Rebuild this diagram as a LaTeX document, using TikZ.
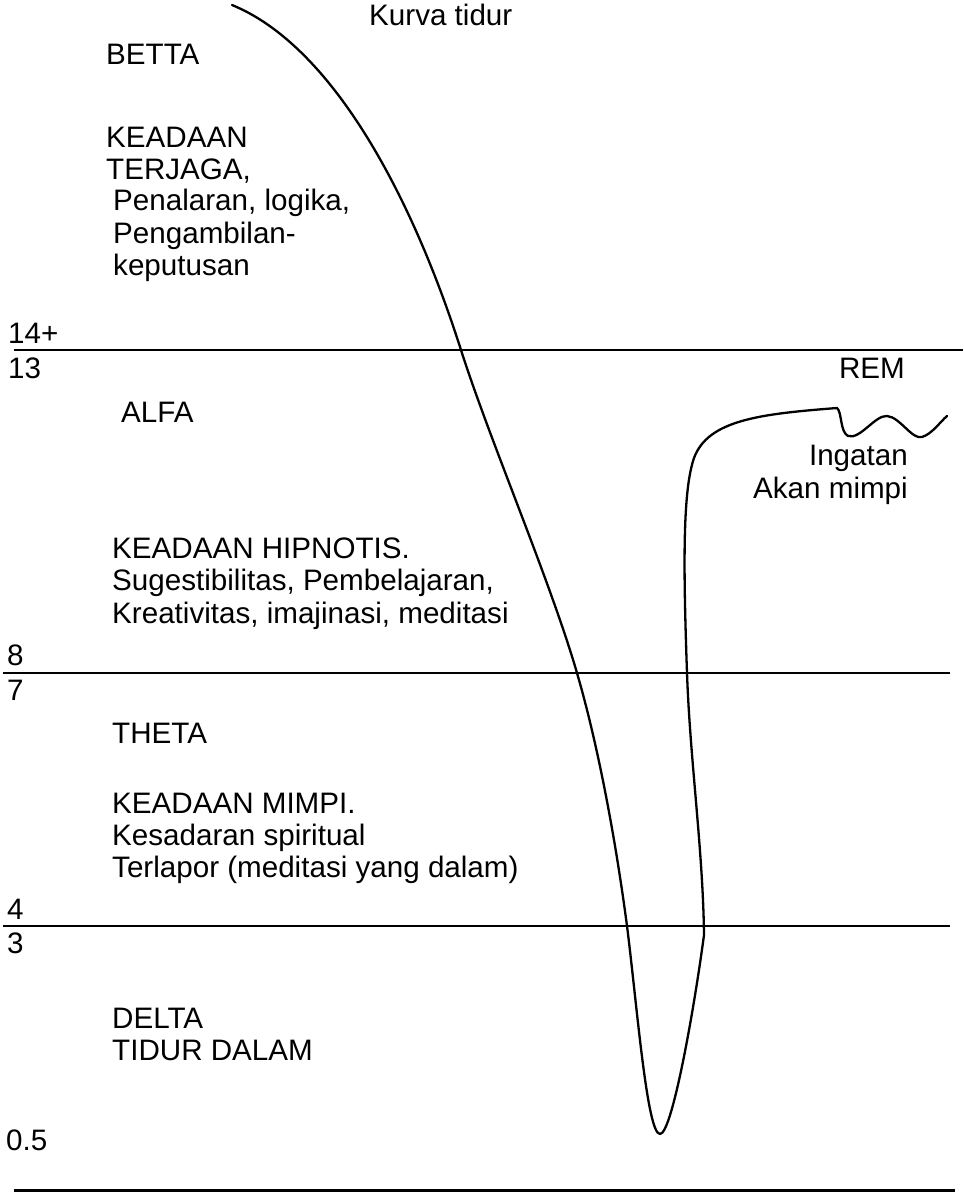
\documentclass[tikz,border=0pt]{standalone}
\usepackage{fontspec}
\setmainfont{Liberation Sans}
\begin{document}
\begin{tikzpicture}[x=1pt,y=-1pt,
  lbl/.style={inner sep=0pt,anchor=base west,font=\fontsize{29.6}{33}\selectfont},
  lblr/.style={lbl,anchor=base east},
  level/.style={line width=2.8pt},
  curve/.style={line width=2.3pt,line join=round,line cap=round}]
\useasboundingbox (0,0) rectangle (963,1193);

% frequency band boundaries
\draw[level] (14,350) -- (963,350);
\draw[level] (3,673) -- (950,673);
\draw[level] (3,926) -- (950,926);
\draw[level] (14,1190.5) -- (955,1190.5);

% boundary values
\node[lbl] (n14) at (8,343) {14+};
\node[lbl] (n13) at (8,378) {13};
\node[lbl] (n8) at (7,665) {8};
\node[lbl] (n7) at (7,700) {7};
\node[lbl] (n4) at (7,919) {4};
\node[lbl] (n3) at (7,953) {3};
\node[lbl] (n05) at (6,1150) {0.5};

% title of the curve
\node[lbl] (title) at (369,26) {Kurva tidur};

% beta band
\node[lbl] (beta) at (106,65) {BETTA};
\node[lbl] (b1) at (106,148) {KEADAAN};
\node[lbl] (b2) at (106,180) {TERJAGA,};
\node[lbl] (b3) at (113,211) {Penalaran, logika,};
\node[lbl] (b4) at (113,243) {Pengambilan-};
\node[lbl] (b5) at (113,275) {keputusan};

% alpha band
\node[lbl] (alpha) at (121,422) {ALFA};
\node[lbl] (a1) at (112,558) {KEADAAN HIPNOTIS.};
\node[lbl] (a2) at (112,590) {Sugestibilitas, Pembelajaran,};
\node[lbl] (a3) at (112,623) {Kreativitas, imajinasi, meditasi};

% REM notes
\node[lblr] (rem) at (905,378) {REM};
\node[lblr] (r1) at (908,465) {Ingatan};
\node[lblr] (r2) at (908,498) {Akan mimpi};

% theta band
\node[lbl] (theta) at (112,743) {THETA};
\node[lbl] (t1) at (112,813) {KEADAAN MIMPI.};
\node[lbl] (t2) at (112,845) {Kesadaran spiritual};
\node[lbl] (t3) at (112,877) {Terlapor (meditasi yang dalam)};

% delta band
\node[lbl] (delta) at (112,1028) {DELTA};
\node[lbl] (d1) at (112,1060) {TIDUR DALAM};

% sleep curve: descent into deep sleep, back up, then the REM ripple
\draw[curve] (232,5)
  .. controls (330,45) and (410,190) .. (461,350)
  .. controls (490,441) and (550,580) .. (577,673)
  .. controls (600,752) and (617,850) .. (627,926)
  .. controls (637,1005) and (647,1134) .. (660,1134)
  .. controls (672,1134) and (694,1010) .. (704,935)
  .. controls (703,850) and (690,760) .. (687,673)
  .. controls (683,560) and (683,490) .. (694,458)
  .. controls (708,420) and (760,414) .. (837,408)
  .. controls (842,412) and (840,432) .. (848,436)
  .. controls (860,440) and (875,415) .. (887,416)
  .. controls (900,417) and (912,440) .. (922,437)
  .. controls (932,434) and (940,422) .. (947,416);
\end{tikzpicture}
\end{document}
